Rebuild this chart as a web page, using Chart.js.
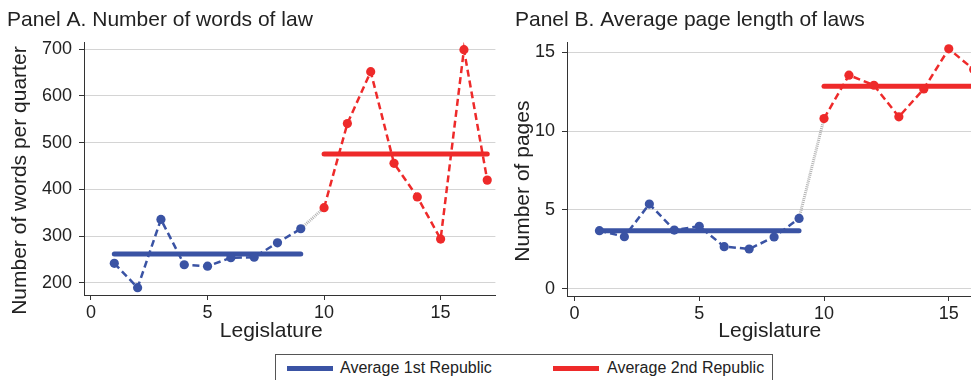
<!DOCTYPE html>
<html>
<head>
<meta charset="utf-8">
<title>Words and page length of laws by legislature</title>
<script src="https://cdn.jsdelivr.net/npm/chart.js@4.4.1/dist/chart.umd.min.js"></script>
<style>
    html, body {
        margin: 0;
        padding: 0;
        background: #fff;
        width: 971px;
        height: 380px;
        overflow: hidden;
        position: relative;
        font-family: "Liberation Sans", Arial, sans-serif;
        color: #222;
    }
    .panel { position: absolute; top: 0; }
    #panelA { left: 0; }
    #panelB { left: 500px; }
    .legend {
        position: absolute;
        left: 275px;
        top: 354px;
        width: 496px;
        height: 40px;
        border: 1px solid #555;
        background: #fff;
    }
    .legend .swatch { position: absolute; top: 11px; width: 46px; height: 5px; }
    .legend .label {
        position: absolute;
        top: 4px;
        font-family: "Liberation Sans", Arial, sans-serif;
        font-size: 16px;
        line-height: 18px;
        white-space: nowrap;
    }
</style>
</head>
<body>
<div class="panel" id="panelA"><canvas id="wordsChart" width="500" height="345"></canvas></div>
<div class="panel" id="panelB"><canvas id="pagesChart" width="512" height="345"></canvas></div>
<div class="legend">
    <span class="swatch" style="left:11px; background:#3a53a4;"></span>
    <span class="label" style="left:64px;">Average 1st Republic</span>
    <span class="swatch" style="left:277px; background:#ee2a2a;"></span>
    <span class="label" style="left:331px;">Average 2nd Republic</span>
</div>
<script>
// Legislatures of each republic
const legislatures1 = [1, 2, 3, 4, 5, 6, 7, 8, 9];
const legislatures2 = [10, 11, 12, 13, 14, 15, 16, 17];

// Panel A: words per quarter
const words1 = [242, 190, 336, 239, 236, 254, 255, 286, 316];
const words2 = [361, 541, 652, 456, 384, 294, 699, 420];
const wordsAvg1 = 262;
const wordsAvg2 = 476;

// Panel B: average page length
const pages1 = [3.68, 3.30, 5.37, 3.72, 3.96, 2.67, 2.52, 3.28, 4.46];
const pages2 = [10.79, 13.54, 12.90, 10.90, 12.67, 15.21, 13.90, 12.90];
const pagesAvg1 = 3.67;
const pagesAvg2 = 12.84;

// Tick labels
const xTicks = [0, 5, 10, 15];
const wordsTicks = [200, 300, 400, 500, 600, 700];
const pagesTicks = [0, 5, 10, 15];

const BLUE = '#3a53a4';
const RED = '#ee2a2a';
const TEXT = '#222';
const AXIS = '#333';
const FONT = "'Liberation Sans', Arial, sans-serif";

Chart.defaults.font.family = FONT;
Chart.defaults.color = TEXT;

// Stata places axis titles a bit off the plot centre, so draw them by hand
const axisTitles = {
    id: 'axisTitles',
    afterDraw(chart, args, opts) {
        const ctx = chart.ctx;
        const area = chart.chartArea;
        ctx.save();
        ctx.fillStyle = TEXT;
        ctx.font = '21px ' + FONT;
        ctx.textAlign = 'center';
        ctx.textBaseline = 'middle';

        ctx.fillText(opts.xText, (area.left + area.right) / 2 + opts.xShift, opts.xTitleY);

        ctx.translate(opts.yTitleX, (area.top + area.bottom) / 2 + opts.yShift);
        ctx.rotate(-Math.PI / 2);
        ctx.fillText(opts.yText, 0, 0);
        ctx.restore();
    }
};

function points(xs, ys) {
    return xs.map((x, i) => ({ x: x, y: ys[i] }));
}

function avgLine(xs, value) {
    return [{ x: xs[0], y: value }, { x: xs[xs.length - 1], y: value }];
}

function seriesDataset(data, color) {
    return {
        data: data,
        borderColor: color,
        backgroundColor: color,
        borderWidth: 2.5,
        borderDash: [7, 4],
        pointRadius: 4.6,
        pointBorderWidth: 0,
        pointBackgroundColor: color,
        pointHoverRadius: 0,
        tension: 0
    };
}

function flatDataset(data, color, width) {
    return {
        data: data,
        borderColor: color,
        borderWidth: width,
        pointRadius: 0,
        pointHoverRadius: 0,
        borderCapStyle: 'round',
        tension: 0
    };
}

function buildChart(canvasId, opts) {
    const ctx = document.getElementById(canvasId).getContext('2d');
    const bridge = [
        { x: opts.xs1[opts.xs1.length - 1], y: opts.ys1[opts.ys1.length - 1] },
        { x: opts.xs2[0], y: opts.ys2[0] }
    ];

    return new Chart(ctx, {
        type: 'line',
        data: {
            datasets: [
                seriesDataset(points(opts.xs1, opts.ys1), BLUE),
                seriesDataset(points(opts.xs2, opts.ys2), RED),
                Object.assign(flatDataset(bridge, '#b3b3b3', 3), { borderDash: [1, 1], borderCapStyle: 'butt' }),
                flatDataset(avgLine(opts.xs1, opts.avg1), BLUE, 5),
                flatDataset(avgLine(opts.xs2, opts.avg2), RED, 5)
            ]
        },
        plugins: [axisTitles],
        options: {
            responsive: false,
            animation: false,
            events: [],
            layout: { padding: { left: opts.padLeft, right: opts.padRight, top: 0, bottom: 0 } },
            plugins: {
                legend: { display: false },
                tooltip: { enabled: false },
                title: {
                    display: true,
                    text: opts.title,
                    align: 'start',
                    color: TEXT,
                    font: { size: 21, weight: 'normal' },
                    padding: { top: 8, bottom: 9 }
                },
                axisTitles: {
                    xText: 'Legislature',
                    yText: opts.yTitle,
                    xShift: opts.xTitleShift,
                    xTitleY: 331,
                    yTitleX: opts.yTitleX,
                    yShift: 12
                }
            },
            scales: {
                x: {
                    type: 'linear',
                    min: -0.3,
                    max: 17.35,
                    afterBuildTicks: scale => { scale.ticks = xTicks.map(v => ({ value: v })); },
                    afterFit: scale => { scale.height = opts.xAxisHeight; },
                    grid: { drawOnChartArea: false, drawTicks: true, tickLength: 5, tickColor: AXIS },
                    border: { display: true, color: AXIS, width: 1 },
                    ticks: { font: { size: 18 }, color: TEXT, padding: 2, maxRotation: 0 }
                },
                y: {
                    type: 'linear',
                    min: opts.yMin,
                    max: opts.yMax,
                    afterBuildTicks: scale => { scale.ticks = opts.yTicks.map(v => ({ value: v })); },
                    afterFit: scale => { scale.width = opts.yAxisWidth; },
                    grid: { color: '#d4d4d4', lineWidth: 1, drawTicks: true, tickLength: 5, tickColor: AXIS },
                    border: { display: true, color: AXIS, width: 1 },
                    ticks: { font: { size: 18 }, color: TEXT, padding: 7 }
                }
            }
        }
    });
}

buildChart('wordsChart', {
    title: 'Panel A. Number of words of law',
    yTitle: 'Number of words per quarter',
    xs1: legislatures1, ys1: words1,
    xs2: legislatures2, ys2: words2,
    avg1: wordsAvg1, avg2: wordsAvg2,
    yTicks: wordsTicks, yMin: 174.3, yMax: 715,
    padLeft: 7, padRight: 2,
    yAxisWidth: 77, xAxisHeight: 50,
    yTitleX: 20, xTitleShift: -18.5
});

buildChart('pagesChart', {
    title: 'Panel B. Average page length of laws',
    yTitle: 'Number of pages',
    xs1: legislatures1, ys1: pages1,
    xs2: legislatures2, ys2: pages2,
    avg1: pagesAvg1, avg2: pagesAvg2,
    yTicks: pagesTicks, yMin: -0.46, yMax: 15.63,
    padLeft: 15, padRight: 4,
    yAxisWidth: 52, xAxisHeight: 49,
    yTitleX: 23.5, xTitleShift: -17.5
});
</script>
</body>
</html>
